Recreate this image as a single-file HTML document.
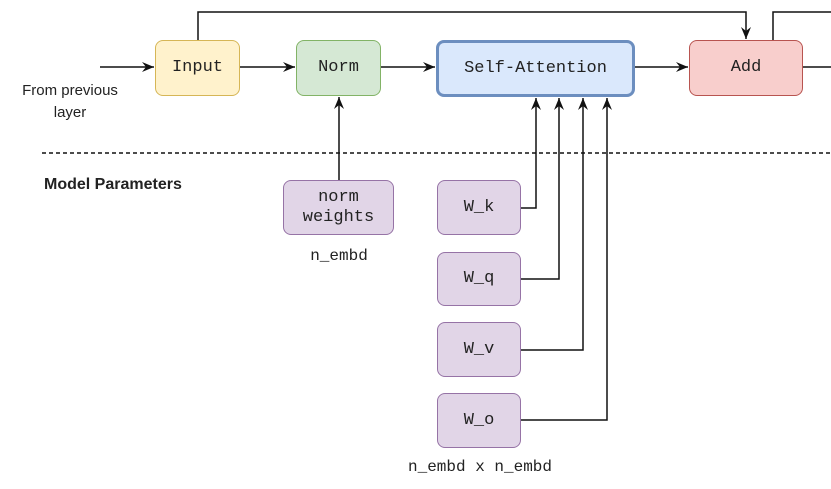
<!DOCTYPE html>
<html><head><style>
body{margin:0;background:#fff;}
.b{position:absolute;box-sizing:border-box;border-radius:8px;display:flex;align-items:center;justify-content:center;text-align:center;font-family:"Liberation Mono",monospace;font-size:17px;color:#222;line-height:20px;}
.t{position:absolute;font-family:"Liberation Sans",sans-serif;font-size:15px;color:#222;}
.m{position:absolute;font-family:"Liberation Mono",monospace;font-size:16px;color:#222;}
.p{background:#e1d5e7;border:1.5px solid #9673a6;}
</style></head><body>
<div style="position:relative;width:831px;height:489px;overflow:hidden">
<svg width="831" height="489" style="position:absolute;left:0;top:0">
<defs><marker id="a" markerWidth="14" markerHeight="14" refX="12" refY="6" orient="auto" markerUnits="userSpaceOnUse"><path d="M0,1 L12,6 L0,11 L4,6 Z" fill="#111"/></marker></defs>
<g stroke="#111" stroke-width="1.5" fill="none">
<path d="M100,67 H154" marker-end="url(#a)"/>
<path d="M240,67 H295" marker-end="url(#a)"/>
<path d="M381,67 H435" marker-end="url(#a)"/>
<path d="M635,67 H688" marker-end="url(#a)"/>
<path d="M803,67 H831"/>
<path d="M198,40 V12 H746 V39" marker-end="url(#a)"/>
<path d="M773,40 V12 H831"/>
<path d="M339,180 V97" marker-end="url(#a)"/>
<path d="M521,208 H536 V98" marker-end="url(#a)"/>
<path d="M521,279 H559 V98" marker-end="url(#a)"/>
<path d="M521,350 H583 V98" marker-end="url(#a)"/>
<path d="M521,420 H607 V98" marker-end="url(#a)"/>
<path d="M42,153 H831" stroke-dasharray="4,3"/>
</g></svg>
<div class="b" style="left:155px;top:40px;width:85px;height:56px;background:#fff2cc;border:1.5px solid #d6b656">Input</div>
<div class="b" style="left:296px;top:40px;width:85px;height:56px;background:#d5e8d4;border:1.5px solid #82b366">Norm</div>
<div class="b" style="left:436px;top:40px;width:199px;height:57px;background:#dae8fc;border:3px solid #6c8ebf">Self-Attention</div>
<div class="b" style="left:689px;top:40px;width:114px;height:56px;background:#f8cecc;border:1.5px solid #b85450">Add</div>
<div class="b p" style="left:283px;top:180px;width:111px;height:55px">norm<br>weights</div>
<div class="b p" style="left:437px;top:180px;width:84px;height:55px">W_k</div>
<div class="b p" style="left:437px;top:252px;width:84px;height:54px">W_q</div>
<div class="b p" style="left:437px;top:322px;width:84px;height:55px">W_v</div>
<div class="b p" style="left:437px;top:393px;width:84px;height:55px">W_o</div>
<div class="t" style="left:0;width:140px;top:80px;text-align:center;line-height:22px">From previous<br>layer</div>
<div class="t" style="left:44px;top:176px;font-weight:bold;font-size:16px">Model Parameters</div>
<div class="m" style="left:289px;width:100px;top:247px;text-align:center">n_embd</div>
<div class="m" style="left:380px;width:200px;top:458px;text-align:center">n_embd x n_embd</div>
</div>
</body></html>
